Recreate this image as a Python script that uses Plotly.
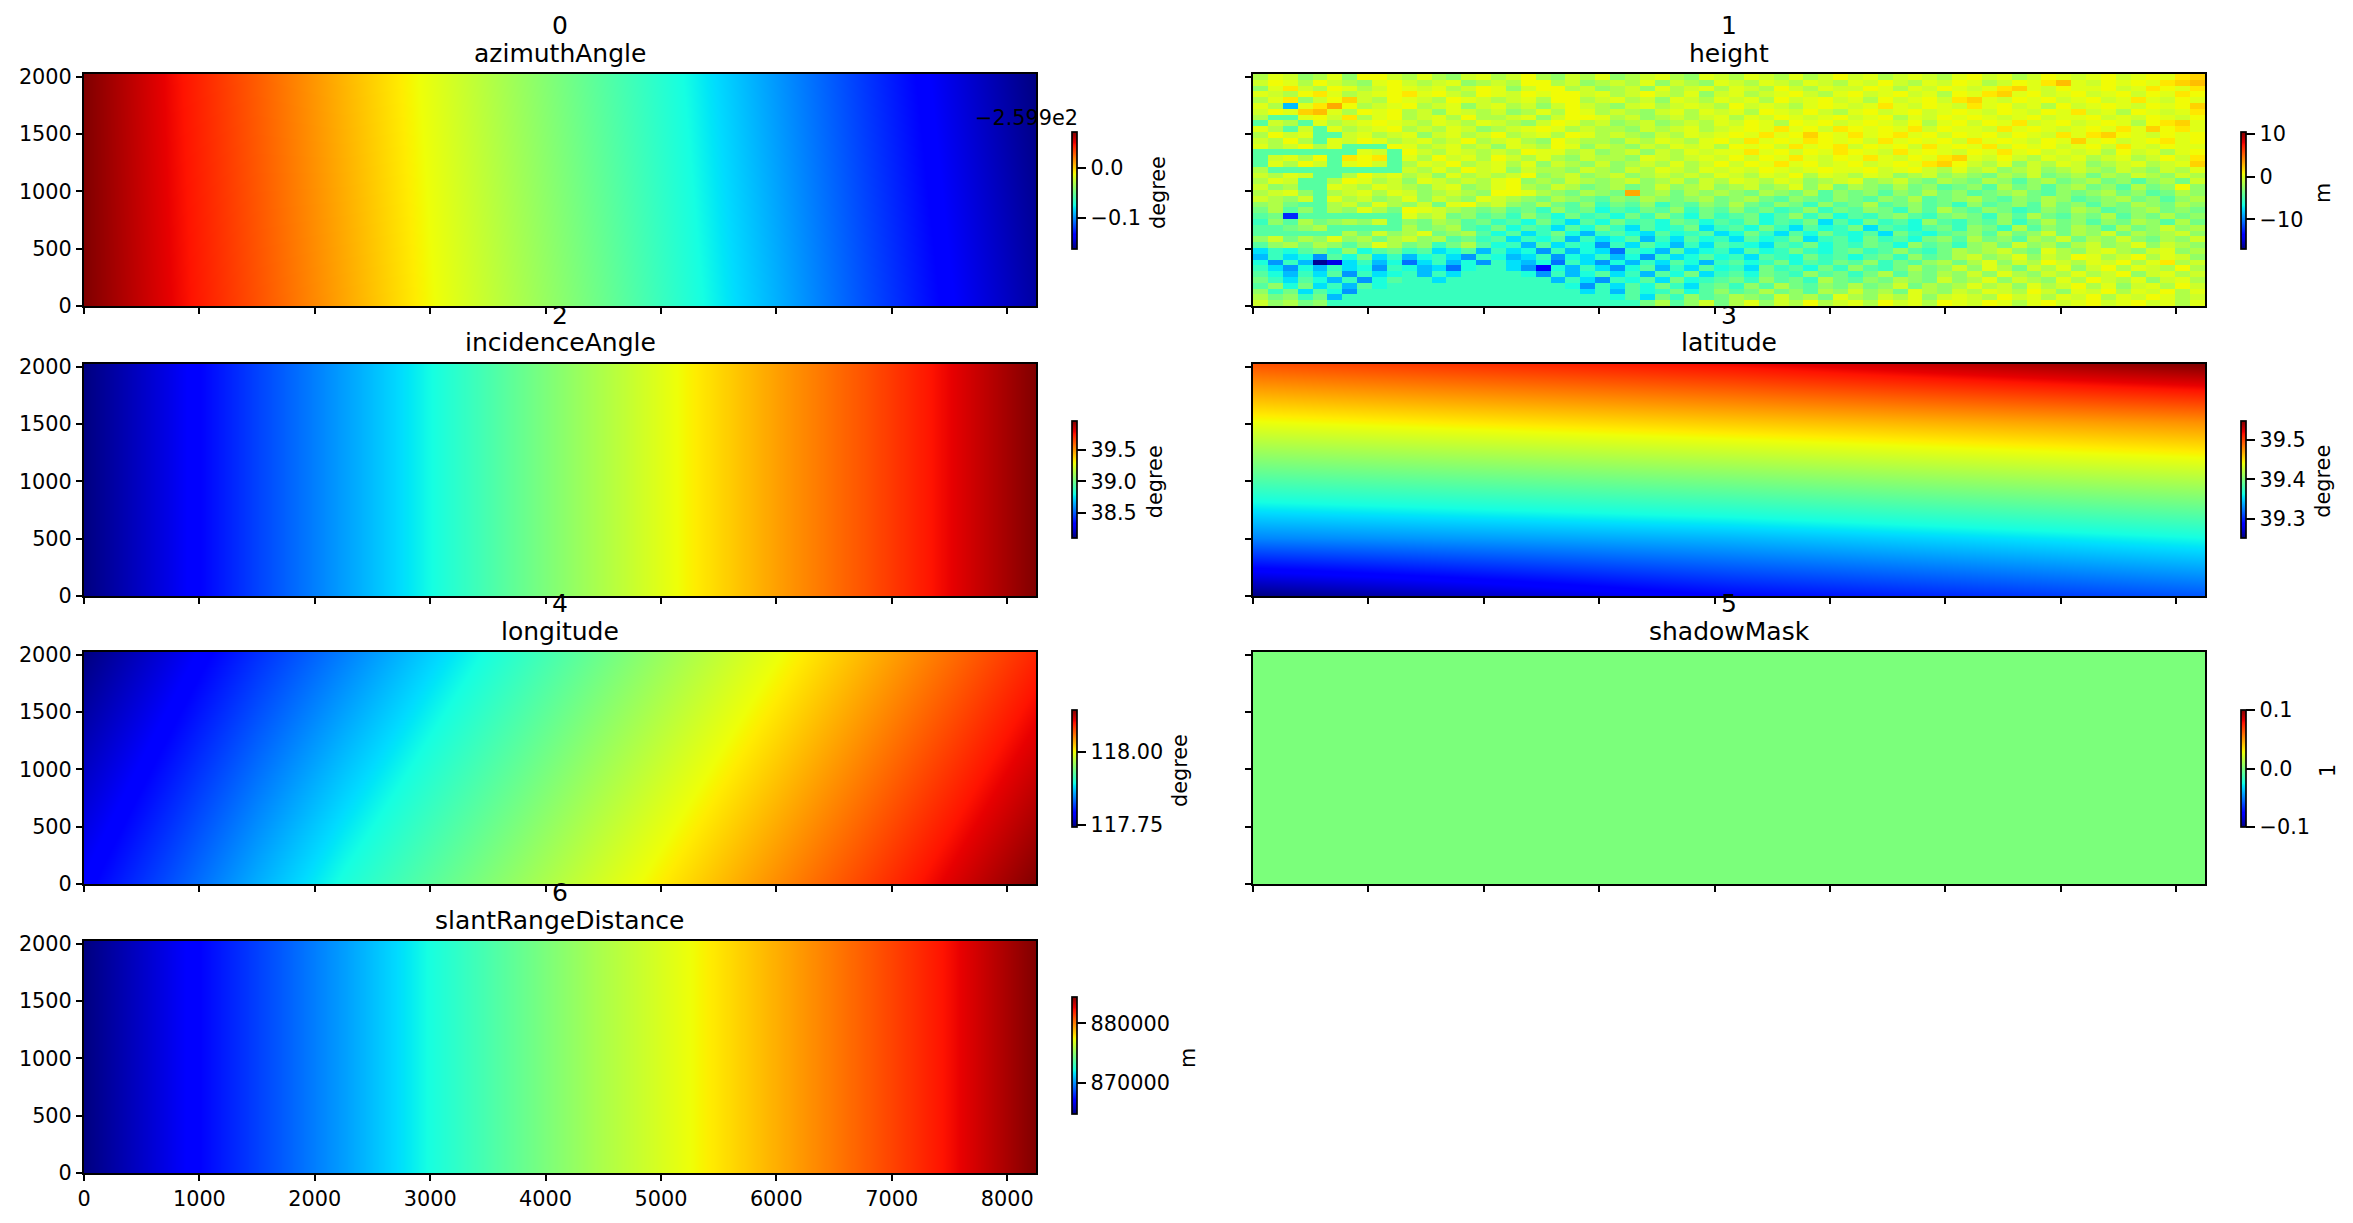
import plotly.graph_objects as go

W, H = 2353, 1223

# ---------- data ----------
COL_X = [0, 750, 1500, 2250, 3000, 3750, 4500, 5250, 6000, 6750, 7500, 8250]
EDGE_Y = [0, 2023]

AZIMUTH_BOTTOM = [.072, .051, .031, .010, -.011, -.031, -.050, -.071, -.092, -.114, -.135, -.155]
AZIMUTH_TOP = [.072, .049, .028, .006, -.015, -.036, -.056, -.076, -.098, -.120, -.141, -.162]

INCIDENCE = [38.11, 38.28, 38.46, 38.63, 38.80, 38.98, 39.15, 39.32, 39.48, 39.63, 39.79, 39.96]

LONGITUDE_BOTTOM = [117.789, 117.825, 117.862, 117.897, 117.927, 117.957, 117.988, 118.018, 118.049, 118.080, 118.112, 118.145]
LONGITUDE_TOP = [117.743, 117.777, 117.811, 117.843, 117.875, 117.906, 117.937, 117.968, 117.998, 118.030, 118.061, 118.093]

SLANT_RANGE = [864800, 866640, 868470, 870290, 872210, 874010, 875780, 877340, 879010, 880680, 882380, 884400]

LAT_X = [0, 4125, 8250]
LAT_Y = [0, 506, 1012, 1519, 2023]
LATITUDE = [
    [39.252, 39.289, 39.314],
    [39.328, 39.342, 39.363],
    [39.384, 39.400, 39.420],
    [39.441, 39.459, 39.477],
    [39.496, 39.519, 39.549],
]

SHADOW_X = [0, 8250]
SHADOW_Y = [0, 2023]
SHADOW = [[0, 0], [0, 0]]

F = -5  # flat water surface, bottom of the height scene
R = -4  # river loops on the left of the height scene
# height, estimated block by block, first list = top of the scene
HEIGHT = [
    [-1,1,0,-2,-1,1,-2,2, 2,0,-1,1,-1,-2,0,1, -1,0,2,-1,-2,0,-1,1, -2,-1,0,1,-1,-2,1,0, -1,1,0,-1,1,-1,0,2, 0,1,-1,0,1,0,-1,1, 2,0,1,-1,0,2,1,0, 1,2,0,1,2,1,3,4],
    [0,2,1,-1,2,0,-1,-2, 1,2,0,-1,0,1,-2,-1, 0,-1,2,2,-1,0,-2,-1, 0,-1,1,-2,0,-1,-2,1, 0,-1,1,0,-1,1,0,-1, 1,0,2,0,-1,1,0,2, 1,-1,0,2,1,3,5,1, 0,2,1,2,1,3,4,5],
    [-2,1,3,0,-1,2,1,-1, 0,2,1,0,1,-1,0,2, 1,-2,0,2,2,-1,0,-2, -1,0,-2,1,-1,0,1,-1, 1,0,-1,2,0,-1,1,0, 0,2,1,-1,1,0,2,1, 0,1,3,4,1,0,2,1, 1,2,0,1,3,2,1,3],
    [1,0,-1,2,3,1,-1,0, 1,2,3,1,2,0,-1,2, 1,0,2,1,2,2,0,1, -1,0,2,0,-1,1,-2,0, 1,-1,0,1,2,0,-1,1, 2,0,1,2,0,1,-1,2, 1,3,4,1,2,0,1,2, 0,1,2,0,2,1,3,2],
    [-1,1,3,-2,0,2,4,0, -1,2,1,0,-1,2,1,0, -1,0,1,-1,2,2,-1,0, 1,-1,0,-2,1,0,-1,1, 0,1,-1,2,0,1,2,0, 1,-1,2,0,1,2,0,3, 4,1,0,2,1,2,0,1, 2,0,1,3,1,0,2,1],
    [1,-1,-8,1,3,6,2,-1, 0,1,2,-1,0,1,-2,0, 1,-1,0,-2,0,2,0,-1, -2,0,1,-1,0,1,0,-1, 2,0,1,0,-1,1,2,1, 0,1,3,1,0,2,1,0, 3,1,2,0,1,-1,2,0, 1,2,1,0,2,1,2,4],
    [0,2,1,4,5,1,-1,2, 1,2,-1,0,-2,1,0,-1, 0,-2,-1,1,-1,2,1,-1, 0,-1,-2,0,1,-1,1,0, 1,-1,2,1,0,2,0,-1, 1,2,0,1,2,0,1,2, 1,0,2,1,0,2,1,3, 0,1,-1,2,1,0,1,3],
    [-1,R,R,1,2,0,3,-1, 1,2,-1,0,1,-1,2,-1, -1,0,1,-2,0,2,2,1, -1,0,-2,-1,0,-1,0,1, -1,1,0,2,1,0,1,2, 0,1,2,-1,1,0,2,1, 2,1,0,1,2,0,1,1, 2,0,1,0,2,1,0,2],
    [R,0,-1,R,1,-1,0,1, 2,1,0,-1,1,0,-1,1, 0,-1,-2,0,2,1,-1,0, -2,-1,0,-2,-1,0,-1,1, 0,2,1,-1,2,1,2,0, 1,2,1,0,2,-1,1,2, 0,2,1,3,0,1,2,0, 1,2,1,-1,2,3,4,1],
    [1,-1,R,0,R,1,-1,0, 1,2,-1,0,-1,1,0,-2, -1,0,1,2,1,-1,0,-1, -1,-2,0,-1,0,1,-1,0, 1,2,1,3,1,2,0,3, 2,1,2,1,3,0,2,1, 1,0,3,1,2,1,0,1, 2,1,3,1,4,2,3,1],
    [-1,2,0,1,R,R,0,1, -1,0,1,-2,0,1,-1,0, 2,-1,0,1,-1,2,1,-1, 0,-1,-2,0,-1,1,0,1, 2,1,3,1,2,4,2,1, 3,1,2,3,1,2,0,2, 1,2,0,2,1,0,3,1, 3,4,2,1,0,2,1,2],
    [0,-1,2,-1,R,1,0,2, 1,-1,0,1,-1,0,2,-1, 0,1,-1,-2,2,0,-1,-1, -2,0,-1,1,0,-1,1,2, 0,3,1,2,1,3,2,1, 2,0,3,1,2,1,2,0, 3,1,2,1,0,2,1,4, 1,2,0,1,2,3,1,2],
    [1,-1,0,2,-1,1,R,R, R,2,1,-1,0,1,-1,0, -2,1,0,-1,2,1,-2,0, -1,-2,0,-1,1,0,1,-1, 2,1,2,0,3,1,2,3, 0,2,1,2,0,3,1,2, 1,3,0,2,1,2,0,1, 2,0,3,1,0,2,1,1],
    [R,R,R,R,R,R,R,1, 0,R,2,0,-1,1,0,-1, 0,-1,2,1,1,-1,0,-2, -1,0,-2,0,-1,1,0,1, 1,3,1,2,0,2,1,3, 2,1,0,3,1,2,1,0, 2,1,3,1,2,0,1,0, 1,-1,2,0,1,-1,1,2],
    [R,0,1,-1,2,R,3,2, 3,R,1,-1,2,0,1,-1, 2,0,-1,1,-1,-2,0,-1, -1,-2,1,0,-1,0,1,0, 2,0,2,1,3,1,0,2, 1,3,1,0,2,1,3,4, 1,0,2,0,-1,1,0,1, -1,0,1,-1,0,2,0,3],
    [R,1,-1,2,0,R,1,2, 0,R,-1,1,0,2,-1,0, 1,-1,1,-2,0,-1,-2,0, -2,-1,0,-1,1,-1,0,2, 0,2,1,3,1,2,0,1, 2,0,1,2,1,3,4,2, 0,-1,1,-2,0,-1,1,0, -2,-1,0,1,-1,0,1,4],
    [-1,R,R,R,R,R,R,R, R,R,0,-1,1,-1,2,0, 1,-2,0,-1,-1,-2,0,-1, -2,0,-1,1,0,-1,1,0, 1,0,2,1,0,1,2,1, 1,2,0,1,2,0,-1,1, -1,0,-2,-1,0,-2,-1,0, -1,-2,0,-1,-2,0,-1,1],
    [0,-1,1,0,R,R,-1,2, 0,1,-1,0,-2,1,-1,0, -1,0,2,-2,-1,0,-2,-1, 0,-2,-1,0,-1,0,-1,1, 0,-1,1,0,2,-1,1,0, -1,1,0,-2,-1,0,-2,-1, -2,-3,-1,-2,0,-3,-2,-1, -3,-1,-2,0,-1,-2,0,-1],
    [-1,1,0,R,R,-1,2,1, -1,0,-2,1,0,-1,0,-1, 1,2,-2,-1,-2,0,-1,-2, -1,0,-2,-1,0,-2,0,-1, 1,0,-1,1,0,-2,-1,0, 1,-2,-1,0,-2,-3,-1,-2, -3,-1,-2,-4,-2,-1,-3,-2, -1,-3,-2,-4,-2,-1,-3,0],
    [0,-2,-1,R,R,1,0,-1, 1,0,-1,-2,0,1,-2,-1, 1,2,-1,-2,0,-1,-3,-2, -1,-3,-2,0,-2,-1,0,-2, -1,0,-2,-1,1,-2,0,-3, -1,-2,-3,-1,-3,-2,-4,-3, -2,-4,-1,-3,-2,-4,-2,-1, -3,-2,-4,-1,-3,-2,2,-2],
    [-1,0,1,-2,R,-1,0,1, -1,1,0,-2,-1,0,-1,-2, 2,2,1,-1,-2,-3,-1,-2, -3,6,-2,-1,-3,-1,-2,-1, -2,-3,-1,-2,-3,-1,-4,-2, -3,-2,-4,-2,-3,-1,-3,-2, -4,-3,-2,-1,-3,-4,-2,-3, -2,-1,-3,-2,-4,-3,-1,-2],
    [0,-1,-2,0,R,1,-1,0, -2,-1,1,-2,0,-1,-2,1, 0,-1,-2,-3,-1,-2,-3,-4, -2,-3,-1,-2,-3,-2,-1,-3, -2,-1,-3,-4,-2,-3,-4,-2, -3,-4,-2,-3,-1,-4,-3,-2, -1,-3,-4,-2,-3,-1,-2,-4, -3,-2,-1,-3,-2,-4,-2,-1],
    [-2,-1,-3,R,R,-1,0,-2, 1,-1,-2,0,-3,1,2,-1, 0,-2,-3,-1,-3,-4,-2,-5, -3,-4,-2,-5,-3,-4,-2,-3, -1,-3,-4,-2,-3,-5,-2,-4, -3,-1,-4,-3,-2,-4,-3,-5, -2,-4,-3,-2,-4,-1,-3,-2, -4,-2,-3,-1,-2,-3,-1,-2],
    [-3,-1,-4,-2,R,-1,-2,1, -1,-3,2,1,0,-1,-2,-3, -2,-4,-3,-5,-2,-4,-3,-6, -4,-5,-3,-4,-2,-5,-3,-4, -2,-4,-3,-5,-4,-2,-5,-3, -4,-2,-3,-5,-2,-4,-1,-3, -4,-2,-3,-5,-4,-2,-3,-1, -2,-4,-3,-2,-1,-3,-2,-3],
    [-4,-3,-12,-4,R,R,R,R, R,R,1,-1,0,-3,-2,-4, -3,-5,-2,-4,-6,-3,-5,-4, -6,-3,-5,-2,-4,-6,-3,-5, -4,-3,-6,-4,-2,-5,-3,-6, -4,-5,-3,-2,-4,-5,-3,-2, -3,-5,-2,-4,-1,-3,-4,-2, -3,-1,-4,-2,-3,-1,-3,-2],
    [-5,-2,-4,-1,-3,-2,-1,-2, 0,R,-2,-3,-1,-2,-4,-3, -5,-4,-6,-3,-5,-7,-4,-6, -3,-5,-4,-6,-3,-4,-6,-4, -5,-3,-6,-4,-5,-3,-7,-4, -6,-3,-5,-4,-6,-2,-4,-5, -3,-4,-2,-5,-3,-1,-3,-2, -4,-2,-3,-1,-2,-4,-1,-3],
    [R,R,-3,-2,-1,R,R,R, R,R,-1,-3,-2,-1,-4,-5, -3,-6,-4,-5,-7,-4,-6,-3, -5,-7,-4,-6,-5,-3,-7,-5, -4,-6,-3,-5,-7,-4,-6,-5, -3,-7,-4,-5,-6,-4,-3,-5, -2,-3,-5,-1,-4,-2,-3,-1, -2,-4,-1,-3,-2,0,-2,-1],
    [R,R,R,R,R,R,-1,-3, 0,-2,-1,1,-3,-2,-1,-4, -6,-4,-7,-5,-3,-6,-8,-5, -4,-6,-7,-4,-6,-5,-4,-7, -6,-3,-5,-7,-4,-6,-3,-5, -6,-4,-7,-3,-5,-6,-4,-3, -2,-4,-1,-3,-2,0,-3,-1, -2,0,-3,-1,-2,-1,0,-2],
    [-2,0,-3,-1,-2,1,-2,-1, -3,-1,0,-2,-1,-4,-3,-5, -4,-7,-5,-6,-4,-8,-5,-7, -6,-4,-8,-5,-7,-4,-6,-5, -7,-4,-6,-5,-3,-7,-5,-4, -6,-3,-5,-4,-6,-3,-2,-4, -1,-3,-2,-4,-1,-2,0,-3, -1,-2,0,-2,-3,-1,-2,0],
    [-4,-2,-1,-3,-1,-2,-4,-2, 1,-1,-3,-2,-5,-3,-1,-4, -6,-5,-8,-4,-7,-5,-6,-9, -5,-7,-4,-6,-8,-5,-7,-4, -5,-6,-7,-4,-5,-3,-6,-4, -5,-3,-4,-6,-2,-4,-3,-5, -2,-1,-3,0,-2,-1,-3,-1, 0,-2,-1,1,-2,0,-1,-2],
    [-7,-5,-6,-4,-3,-5,-2,-6, -4,-3,-5,-4,-7,-6,-4,-8, -5,-7,-6,-9,-5,-8,-6,-7, -10,-5,-6,-8,-4,-7,-6,-5, -7,-4,-6,-5,-3,-5,-6,-4, -3,-5,-4,-2,-4,-5,-3,-1, -2,-1,0,-2,-3,1,-1,-2, 0,1,-1,-2,0,1,-2,-1],
    [-8,-5,-7,-6,-9,-4,-6,-3, -7,-5,-8,-6,-5,-7,-9,-5, -6,-8,-7,-5,-9,-6,-7,-5, -8,-6,-9,-5,-7,-6,-4,-6, -5,-7,-4,-5,-6,-3,-5,-4, -6,-4,-3,-5,-2,-4,-3,-1, 0,-2,-1,1,-2,0,-1,2, 1,-1,0,2,-1,1,0,-2],
    [-6,-9,-5,-8,-16,-14,-7,-5, -8,-6,-10,-7,-5,-8,-6,-9, -5,-7,-8,-6,-10,-5,-7,-9, -6,-8,-5,-7,-4,-6,-8,-5, -4,-6,-5,-3,-6,-4,-5,-3, -4,-2,-5,-3,-4,-2,-1,-3, -1,1,-2,0,-1,2,0,-1, 1,0,2,-1,1,3,-1,0],
    [-5,-7,-9,-6,-8,-5,-7,-6, -9,-5,-6,-8,-7,-10,-6,F, F,-7,-9,-13,-6,-8,-5,-7, -9,-6,-4,-8,-5,-7,-4,-6, -5,-7,-3,-5,-4,-6,-3,-5, -2,-4,-5,-3,-1,-3,-2,0, -2,1,-1,-3,0,-1,1,-2, 0,2,-1,1,0,-1,2,-1],
    [-4,-6,-8,-5,-7,-4,-9,-5, -7,-6,F,-8,-5,-7,F,F, F,F,-6,-9,-5,-8,-6,-4, -7,-5,-8,-4,-6,-3,-7,-5, -4,-6,-3,-4,-5,-2,-4,-3, -5,-3,-1,-4,-2,-3,-1,-2, 0,-2,1,-1,-2,0,-1,1, -1,0,2,-2,0,1,-1,0],
    [-3,-5,-7,-4,-6,-8,-5,-9, -6,-4,F,F,-7,F,F,F, F,F,F,F,-8,-5,-7,-9, -5,-6,-4,-7,-3,-6,-5,-4, -3,-5,-2,-4,-3,-5,-1,-3, -4,-2,-3,-1,-2,-3,0,-2, -1,1,-2,0,-1,-2,1,-1, 2,0,-1,1,-2,0,1,-1],
    [-4,-2,-6,-3,-7,-5,-8,-4, -6,F,F,F,F,F,F,F, F,F,F,F,F,-6,-9,-5, -7,-4,-6,-3,-5,-7,-4,-3, -5,-2,-4,-1,-3,-4,-2,-3, -1,-3,-2,0,-3,-1,-2,-1, 1,-1,0,-2,1,-1,0,2, -1,1,-2,0,1,-1,2,0],
    [-2,-5,-3,-7,-4,-6,-9,F, F,F,F,F,F,F,F,F, F,F,F,F,F,F,-7,-5, -8,-4,-6,-5,-3,-6,-4,-2, -4,-3,-1,-3,-2,-4,-1,-2, 0,-2,-1,-3,1,-1,-2,0, -1,1,0,-1,2,0,-2,1, 0,2,-1,1,0,2,-1,1],
    [-1,-3,-2,-5,-3,-8,F,F, F,F,F,F,F,F,F,F, F,F,F,F,F,F,F,F, -6,-4,-7,-3,-5,-2,-4,-3, -1,-2,-3,0,-2,-1,-3,1, -1,-2,0,-1,1,-2,0,1, 0,-1,2,0,1,-1,1,0, 2,-1,1,0,2,1,-1,0],
    [0,-2,-1,-3,-2,F,F,F, F,F,F,F,F,F,F,F, F,F,F,F,F,F,F,F, F,-5,-3,-1,-4,-2,0,-3, -1,1,-2,0,-1,2,-1,0, 1,-1,2,0,1,-1,2,1, 0,2,1,-1,1,2,0,1, 2,0,1,2,0,1,-1,1],
]

# my block estimates came out slightly warm against the colour bar: calibrate them
HEIGHT_CALIBRATED = [[v * 0.6 - 0.5 if v > 0 else v - 0.5 for v in line] for line in HEIGHT]

TITLES = ["azimuthAngle", "height", "incidenceAngle", "latitude", "longitude", "shadowMask", "slantRangeDistance"]
UNITS = ["degree", "m", "degree", "degree", "degree", "1", "m"]
Z_RANGES = [(-.162, .072), (-17, 10.5), (38.11, 39.96), (39.252, 39.549), (117.743, 118.145), (-.1, .1), (864800, 884400)]
CB_TICKVALS = [[0.0, -0.1], [10, 0, -10], [39.5, 39.0, 38.5], [39.5, 39.4, 39.3], [118.0, 117.75], [0.1, 0.0, -0.1], [880000, 870000]]
CB_TICKTEXT = [["0.0", "\u22120.1"], ["10", "0", "\u221210"], ["39.5", "39.0", "38.5"], ["39.5", "39.4", "39.3"],
               ["118.00", "117.75"], ["0.1", "0.0", "\u22120.1"], ["880000", "870000"]]
X_TICKS = [0, 1000, 2000, 3000, 4000, 5000, 6000, 7000, 8000]
Y_TICKS = [0, 500, 1000, 1500, 2000]
OFFSET_TEXT = "\u22122.599e2"

JET = [
    [0.00, "rgb(0,0,128)"], [0.11, "rgb(0,0,255)"], [0.125, "rgb(0,0,255)"], [0.34, "rgb(0,219,255)"],
    [0.35, "rgb(0,230,247)"], [0.375, "rgb(21,255,226)"], [0.64, "rgb(238,255,8)"], [0.65, "rgb(247,246,0)"],
    [0.66, "rgb(255,236,0)"], [0.89, "rgb(255,19,0)"], [0.91, "rgb(232,0,0)"], [1.00, "rgb(128,0,0)"],
]

# ---------- layout in pixels ----------
FONT = "DejaVu Sans"
TICK_PX, TITLE_PX = 20.8, 25
COL_L = [84, 1253]
COL_W = 952
ROW_T = [74, 364, 652, 941]
ROW_H = 232
TEXT_ROW_T = [74.3, 363.7, 652, 941]
CB_X = [1071.5, 2240.5]
CB_T = [132, 420.7, 710, 997]
CB_H = 117.3
UNIT_POS = [(1158, 193), (2323, 193), (1154.5, 481.7), (2323, 481.7), (1180, 771), (2328, 771), (1188, 1058)]


def px(v):
    return v / W


def py(v):
    return 1 - v / H


traces = [
    dict(x=COL_X, y=EDGE_Y, z=[AZIMUTH_BOTTOM, AZIMUTH_TOP], zsmooth="best"),
    dict(x0=64.45, dx=128.906, y0=1997.7, dy=-50.575, z=HEIGHT_CALIBRATED, zsmooth=False),
    dict(x=COL_X, y=EDGE_Y, z=[INCIDENCE, INCIDENCE], zsmooth="best"),
    dict(x=LAT_X, y=LAT_Y, z=LATITUDE, zsmooth="best"),
    dict(x=COL_X, y=EDGE_Y, z=[LONGITUDE_BOTTOM, LONGITUDE_TOP], zsmooth="best"),
    dict(x=SHADOW_X, y=SHADOW_Y, z=SHADOW, zsmooth=False),
    dict(x=COL_X, y=EDGE_Y, z=[SLANT_RANGE, SLANT_RANGE], zsmooth="best"),
]

fig = go.Figure()
layout = dict(
    width=W, height=H, autosize=False, margin=dict(l=0, r=0, t=0, b=0, autoexpand=False),
    paper_bgcolor="white", plot_bgcolor="white",
    font=dict(family=FONT, size=TICK_PX, color="black"),
    showlegend=False,
)
annotations = []


def note(text, x, y, size, **kw):
    annotations.append(dict(text=text, x=px(x), y=py(y), xref="paper", yref="paper", showarrow=False,
                            font=dict(family=FONT, size=size, color="black"), borderpad=0, **kw))


for i, t in enumerate(traces):
    row, col = i // 2, i % 2
    n = i + 1
    left, top = COL_L[col], ROW_T[row]
    suffix = "" if n == 1 else str(n)
    axis = dict(showgrid=False, zeroline=False, showline=True, mirror=True, linecolor="black", linewidth=2,
                ticks="outside", ticklen=6, tickwidth=1.7, tickcolor="black", tickfont=dict(size=TICK_PX))
    layout["xaxis" + suffix] = dict(
        axis, domain=[px(left), px(left + COL_W)], anchor="y" + suffix, range=[0, 8250],
        tickmode="array", tickvals=X_TICKS, showticklabels=(i == 6))
    layout["yaxis" + suffix] = dict(
        axis, domain=[py(top + ROW_H), py(top)], anchor="x" + suffix, range=[0, 2023],
        tickmode="array", tickvals=Y_TICKS, showticklabels=(col == 0))
    zmin, zmax = Z_RANGES[i]
    fig.add_trace(go.Heatmap(
        xaxis="x" + suffix, yaxis="y" + suffix, colorscale=JET, zmin=zmin, zmax=zmax,
        hoverinfo="skip",
        colorbar=dict(
            x=px(CB_X[col]), xanchor="left", xpad=0, ypad=0,
            y=py(CB_T[row]), yanchor="top", len=CB_H / H, lenmode="fraction",
            thickness=5, thicknessmode="pixels",
            outlinewidth=1.7, outlinecolor="black", borderwidth=0,
            ticks="outside", ticklen=9, tickwidth=1.7, tickcolor="black",
            tickmode="array", tickvals=CB_TICKVALS[i], ticktext=CB_TICKTEXT[i],
            tickfont=dict(family=FONT, size=TICK_PX, color="black"),
        ),
        **t))
    cx = left + COL_W / 2
    text_top = TEXT_ROW_T[row]
    note(str(i), cx, text_top - 48.5, TITLE_PX, xanchor="center", yanchor="middle")
    note(TITLES[i], cx, text_top - 21, TITLE_PX, xanchor="center", yanchor="middle")
    ux, uy = UNIT_POS[i]
    note(UNITS[i], ux, uy, TICK_PX, xanchor="center", yanchor="middle", textangle=-90)

note(OFFSET_TEXT, 1079, 118, TICK_PX, xanchor="right", yanchor="middle")

layout["annotations"] = annotations
fig.update_layout(**layout)

fig.write_html("out.html", config={"displayModeBar": False},
               post_script="document.body.style.margin='0';document.body.style.overflow='hidden';")
